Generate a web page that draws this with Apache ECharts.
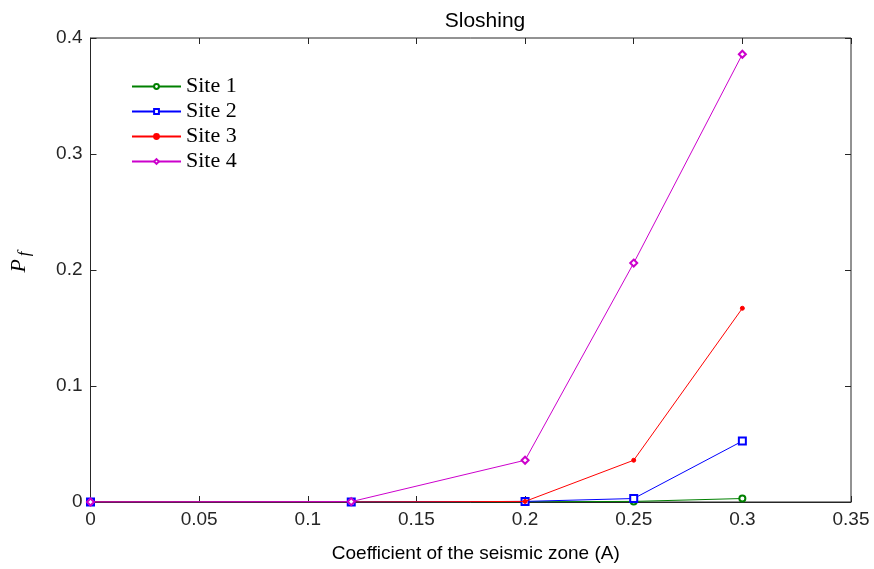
<!DOCTYPE html>
<html><head><meta charset="utf-8">
<script src="https://cdn.jsdelivr.net/npm/echarts@6/dist/echarts.min.js"></script>
<style>html,body{margin:0;padding:0;background:#fff}#c{width:874px;height:569px}</style>
</head><body><div id="c"></div>
<script>
const xValues = [0, 0.12, 0.2, 0.25, 0.3];
const site1 = [0, 0, 0.0002, 0.0005, 0.003];
const site2 = [0, 0, 0.0005, 0.003, 0.0525];
const site3 = [0, 0, 0.0005, 0.036, 0.167];
const site4 = [0, 0.0003, 0.036, 0.206, 0.386];
const seriesNames = ['Site 1', 'Site 2', 'Site 3', 'Site 4'];
const colors = ['#008000', '#0000ff', '#ff0000', '#cc00cc'];
const symbols = ['emptyCircle', 'emptyRect', 'circle', 'emptyDiamond'];
const symbolSizes = [6, 7, 4, 7];
const allData = [site1, site2, site3, site4];

const chart = echarts.init(document.getElementById('c'));
const tickFont = {color: '#262626', fontSize: 19, fontFamily: 'Liberation Sans, Arial'};
const tickStyle = {show: true, inside: true, length: 6, lineStyle: {color: '#262626', width: 1}};
const series = allData.map((d, i) => ({
  name: seriesNames[i], type: 'line', data: xValues.map((x, j) => [x, d[j]]),
  symbol: symbols[i], symbolSize: symbolSizes[i], showAllSymbol: true,
  lineStyle: {color: colors[i], width: 1}, itemStyle: {color: colors[i], borderColor: colors[i], borderWidth: 1},
  emphasis: {disabled: true}, z: 2 + i
}));
chart.setOption({
  animation: false,
  title: {text: 'Sloshing', left: 480, top: 6, textAlign: 'center',
    textStyle: {fontSize: 21, fontWeight: 'normal', color: '#000', fontFamily: 'Liberation Sans, Arial'}},
  legend: {left: 131, top: 74, orient: 'vertical', itemWidth: 49, itemHeight: 6, itemGap: 0, padding: 0,
    data: seriesNames, textStyle: {fontSize: 22, lineHeight: 25, fontFamily: 'Liberation Serif, Times New Roman', color: '#000'}},
  grid: {left: 90, right: 23, top: 38, bottom: 67, show: true, borderColor: '#262626', borderWidth: 1},
  xAxis: [{type: 'value', min: 0, max: 0.35, interval: 0.05,
    name: 'Coefficient of the seismic zone (A)', nameLocation: 'middle', nameGap: 42,
    nameTextStyle: {fontSize: 19, color: '#000', fontFamily: 'Liberation Sans, Arial', padding: [0, 0, 0, 10]},
    axisLine: {show: true, onZero: false, lineStyle: {color: '#262626'}}, axisTick: tickStyle,
    axisLabel: Object.assign({margin: 8}, tickFont), splitLine: {show: false}},
    {type: 'value', position: 'top', min: 0, max: 0.35, interval: 0.05,
    axisLine: {show: false, onZero: false}, axisTick: tickStyle,
    axisLabel: {show: false}, splitLine: {show: false}}],
  yAxis: [{type: 'value', min: 0, max: 0.4, interval: 0.1,
    name: '{p|P}{f|f}', nameLocation: 'middle', nameGap: 57, nameRotate: 90,
    nameTextStyle: {padding: [0, 0, 0, 16], rich: {p: {fontSize: 22, fontStyle: 'italic', fontFamily: 'Liberation Serif, Times New Roman', color: '#000'},
      f: {fontSize: 17, fontStyle: 'italic', fontFamily: 'Liberation Serif, Times New Roman', color: '#000', verticalAlign: 'bottom', padding: [12,0,0,3]}}},
    axisLine: {show: true, onZero: false, lineStyle: {color: '#262626'}}, axisTick: tickStyle,
    axisLabel: Object.assign({margin: 8, formatter: v => v === 0 ? '0' : String(+v.toFixed(2))}, tickFont), splitLine: {show: false}},
    {type: 'value', position: 'right', min: 0, max: 0.4, interval: 0.1,
    axisLine: {show: false, onZero: false}, axisTick: tickStyle,
    axisLabel: {show: false}, splitLine: {show: false}}],
  series: series
});
</script></body></html>
